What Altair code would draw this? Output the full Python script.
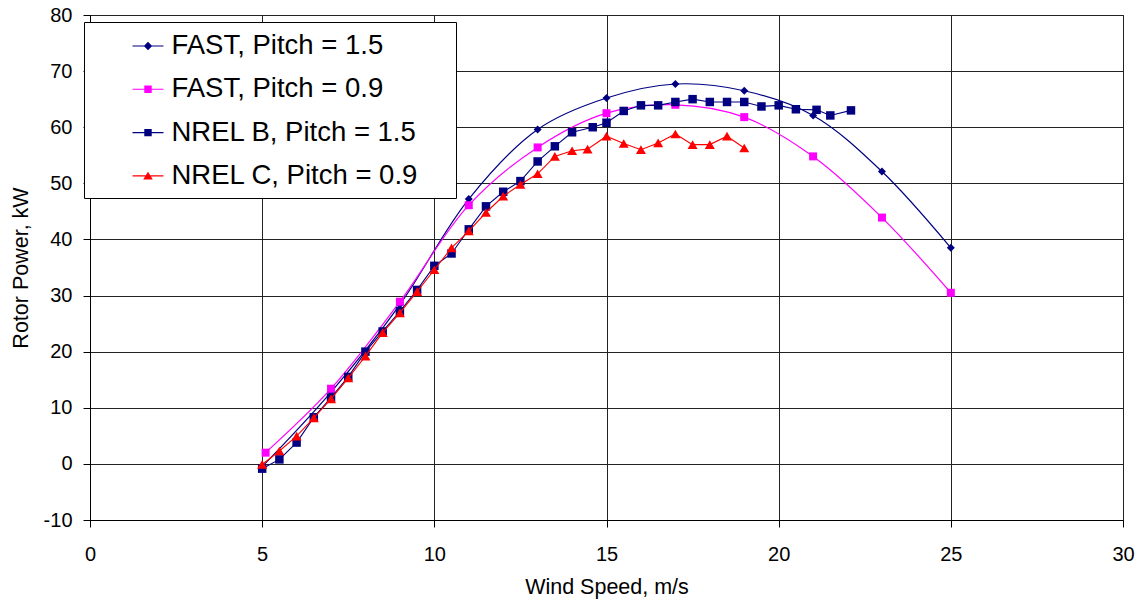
import altair as alt
import pandas as pd

series_names = ["FAST, Pitch = 1.5", "FAST, Pitch = 0.9", "NREL B, Pitch = 1.5", "NREL C, Pitch = 0.9"]
series_colors = ["#000080", "#FF00FF", "#000080", "#FF0000"]

fast15_ws = [5, 7, 9, 11, 13, 15, 17, 19, 21, 23, 25]
fast15_kw = [-0.5, 12.8, 28.4, 47.2, 59.6, 65.2, 67.7, 66.5, 62.1, 52.1, 38.5]

fast09_ws = [5.1, 7, 9, 11, 13, 15, 17, 19, 21, 23, 25]
fast09_kw = [2.0, 13.4, 28.9, 46.1, 56.4, 62.5, 64.0, 61.8, 54.8, 43.9, 30.5]

nrelb_ws = [5, 5.5, 6, 6.5, 7, 7.5, 8, 8.5, 9, 9.5, 10, 10.5, 11, 11.5, 12, 12.5, 13, 13.5, 14,
            14.6, 15, 15.5, 16, 16.5, 17, 17.5, 18, 18.5, 19, 19.5, 20, 20.5, 21.1, 21.5, 22.1]
nrelb_kw = [-0.85, 0.8, 3.8, 8.3, 11.8, 15.5, 20.0, 23.6, 27.2, 31.0, 35.3, 37.5, 41.8, 45.9, 48.5,
            50.4, 53.9, 56.6, 59.1, 60.0, 60.8, 62.9, 63.9, 63.9, 64.5, 65.0, 64.5, 64.5, 64.5,
            63.7, 63.9, 63.2, 63.1, 62.1, 63.0]

nrelc_ws = [5, 5.5, 6, 6.5, 7, 7.5, 8, 8.5, 9, 9.5, 10, 10.5, 11, 11.5, 12, 12.5, 13, 13.5, 14,
            14.45, 15, 15.5, 16, 16.5, 17, 17.5, 18, 18.5, 19]
nrelc_kw = [-0.1, 2.3, 4.95, 8.2, 11.6, 15.3, 19.2, 23.4, 26.9, 30.7, 34.6, 38.5, 41.5, 44.8, 47.7,
            49.8, 51.7, 54.8, 55.8, 56.1, 58.4, 57.1, 56.0, 57.2, 58.8, 56.9, 56.9, 58.4, 56.3]

x_ticks = [0, 5, 10, 15, 20, 25, 30]
y_ticks = [-10, 0, 10, 20, 30, 40, 50, 60, 70, 80]

# legend symbols: a short line with the series marker in the middle (unit square -1..1)
legend_paths = [
    "M-1,-0.035H1V0.035H-1Z M0,-0.27L0.27,0L0,0.27L-0.27,0Z",
    "M-1,-0.035H1V0.035H-1Z M-0.24,-0.24H0.24V0.24H-0.24Z",
    "M-1,-0.035H1V0.035H-1Z M-0.24,-0.24H0.24V0.24H-0.24Z",
    "M-1,-0.035H1V0.035H-1Z M0,-0.27L0.31,0.23H-0.31Z",
]

frames = []
for name, ws, kw in [(series_names[0], fast15_ws, fast15_kw),
                     (series_names[1], fast09_ws, fast09_kw),
                     (series_names[2], nrelb_ws, nrelb_kw),
                     (series_names[3], nrelc_ws, nrelc_kw)]:
    frames.append(pd.DataFrame({"series": name, "ws": ws, "kw": kw}))
df = pd.concat(frames, ignore_index=True)

FONT = "Liberation Sans"

x_enc = alt.X("ws:Q", scale=alt.Scale(domain=[0, 30], nice=False, zero=False),
              axis=alt.Axis(values=x_ticks, title="Wind Speed, m/s",
                            labelExpr="'' + datum.value", labelFlush=False,
                            labelFontSize=20, labelBaseline="alphabetic", labelPadding=33,
                            tickSize=7, titleFontSize=21.5, titleFontWeight="normal",
                            titleBaseline="alphabetic", titleY=73))
y_enc = alt.Y("kw:Q", scale=alt.Scale(domain=[-10, 80], nice=False, zero=False),
              axis=alt.Axis(values=y_ticks, title="Rotor Power, kW",
                            labelExpr="'' + datum.value", labelFlush=False,
                            labelFontSize=20, labelPadding=11, tickSize=7,
                            titleFontSize=21.5, titleFontWeight="normal",
                            titleBaseline="alphabetic", titleAngle=270, titleX=-62.5,
                            titleY=252.5, titleAlign="center"))

base = alt.Chart(df)


def sel(i):
    return base.transform_filter(alt.datum.series == series_names[i])


layers = []
# FAST lines (smoothed)
layers.append(sel(0).mark_line(color=series_colors[0], strokeWidth=1.2, interpolate="catmull-rom").encode(x=x_enc, y=y_enc))
layers.append(sel(1).mark_line(color=series_colors[1], strokeWidth=1.2, interpolate="catmull-rom").encode(x=x_enc, y=y_enc))
layers.append(sel(0).mark_point(shape="diamond", filled=True, size=64, opacity=1, color=series_colors[0]).encode(x=x_enc, y=y_enc))
layers.append(sel(1).mark_point(shape="square", filled=True, size=64, opacity=1, color=series_colors[1]).encode(x=x_enc, y=y_enc))
# NREL measured
layers.append(sel(2).mark_line(color=series_colors[2], strokeWidth=1.1).encode(x=x_enc, y=y_enc))
layers.append(sel(2).mark_point(shape="square", filled=True, size=72, opacity=1, color=series_colors[2]).encode(x=x_enc, y=y_enc))
layers.append(sel(3).mark_line(color=series_colors[3], strokeWidth=1.1).encode(x=x_enc, y=y_enc))
layers.append(sel(3).mark_point(shape="triangle-up", filled=True, size=100, opacity=1, color=series_colors[3]).encode(x=x_enc, y=y_enc))

leg = alt.Legend(title="W", titleOrient="right", titleOpacity=0, titleFontSize=10,
                 titlePadding=19,
                 orient="none", legendX=-6, legendY=7,
                 fillColor="white", strokeColor="black", padding=8.5,
                 symbolSize=961, symbolStrokeWidth=0, symbolOpacity=1,
                 symbolOffset=40, labelOffset=8,
                 labelFont=FONT, labelFontSize=27.5, labelColor="black",
                 rowPadding=14.3, labelLimit=0, zindex=2)

legend_layer = base.mark_point(filled=True, opacity=0).encode(
    x=x_enc, y=y_enc,
    color=alt.Color("series:N", scale=alt.Scale(domain=series_names, range=series_colors), legend=leg),
    shape=alt.Shape("series:N", scale=alt.Scale(domain=series_names, range=legend_paths), legend=leg),
)
layers.append(legend_layer)

chart = alt.layer(*layers).properties(
    width=1033, height=505,
    padding={"left": 90, "top": 15, "right": 17, "bottom": 80},
    autosize=alt.AutoSizeParams(type="none"),
    background="white",
).configure_view(stroke="#222", strokeWidth=1).configure_axis(
    labelFont=FONT, titleFont=FONT, labelColor="black", titleColor="black",
    domainColor="black", tickColor="black", gridColor="#222", gridOpacity=1,
    domainWidth=1, tickWidth=1, gridWidth=1,
)

chart.save("out.html", embed_options={"renderer": "svg", "actions": False})
